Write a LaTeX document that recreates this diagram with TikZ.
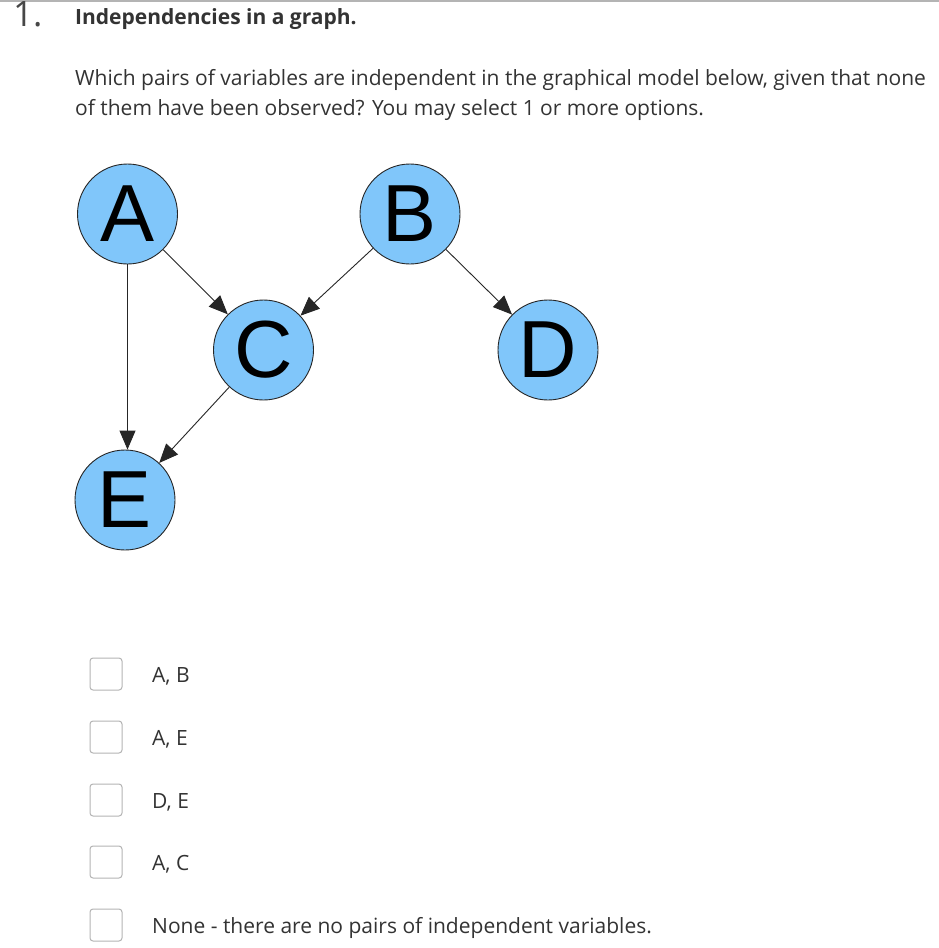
\documentclass[tikz,border=0pt]{standalone}
\usepackage{fontspec}
\setmainfont{Open Sans}
\newfontfamily\arialf{Liberation Sans}
\usetikzlibrary{arrows.meta}
\definecolor{nodeblue}{RGB}{128,198,250}
\definecolor{txt}{RGB}{51,51,51}
\definecolor{boxgray}{RGB}{180,180,180}
\begin{document}
\begin{tikzpicture}[x=1pt,y=-1pt,
  gnode/.style={circle, minimum size=100pt, inner sep=0pt, fill=nodeblue, draw=black!85, line width=0.9pt,
    font=\arialf\fontsize{81}{81}\selectfont, text=black},
  edge/.style={-{Triangle[length=19pt,width=16pt]}, line width=0.9pt, draw=black!85},
  txtnode/.style={anchor=base west, inner sep=0pt, text=txt, font=\fontsize{21}{25}\selectfont},
  cbox/.style={draw=boxgray, line width=1pt, rounded corners=3pt, minimum size=32pt, inner sep=0pt, fill=white}]
\useasboundingbox[fill=white] (0,0) rectangle (939,948);
\draw[boxgray, line width=1.5pt] (0,0.75) -- (939,0.75);
\node[anchor=base west, inner sep=0pt, text=txt!90, font=\fontsize{35}{40}\selectfont] (num) at (13,26) {1.};
\node[txtnode, font=\bfseries\fontsize{21}{25}\selectfont] (title) at (75,24) {Independencies in a graph.};
\node[txtnode] (q1) at (75,85) {Which pairs of variables are independent in the graphical model below, given that none};
\node[txtnode] (q2) at (75,115.5) {of them have been observed? You may select 1 or more options.};
% graph
\node[gnode] (A) at (127.5,214) {A};
\node[gnode] (B) at (410,214) {B};
\node[gnode] (C) at (263.5,350) {C};
\node[gnode] (D) at (548,350) {D};
\node[gnode] (E) at (125,500) {E};
\draw[edge] (A) -- (C);
\draw[edge] (B) -- (C);
\draw[edge] (B) -- (D);
\draw[edge] (A.south) -- (E.north -| A.south);
\draw[edge] (C) -- (E);
% options
\node[cbox] (b1) at (106,674) {};
\node[cbox] (b2) at (106,737) {};
\node[cbox] (b3) at (106,800) {};
\node[cbox] (b4) at (106,862) {};
\node[cbox] (b5) at (106,925) {};
\node[txtnode] (o1) at (152,682) {A, B};
\node[txtnode] (o2) at (152,745) {A, E};
\node[txtnode] (o3) at (152,808) {D, E};
\node[txtnode] (o4) at (152,870) {A, C};
\node[txtnode] (o5) at (152,933) {None - there are no pairs of independent variables.};
\end{tikzpicture}
\end{document}
